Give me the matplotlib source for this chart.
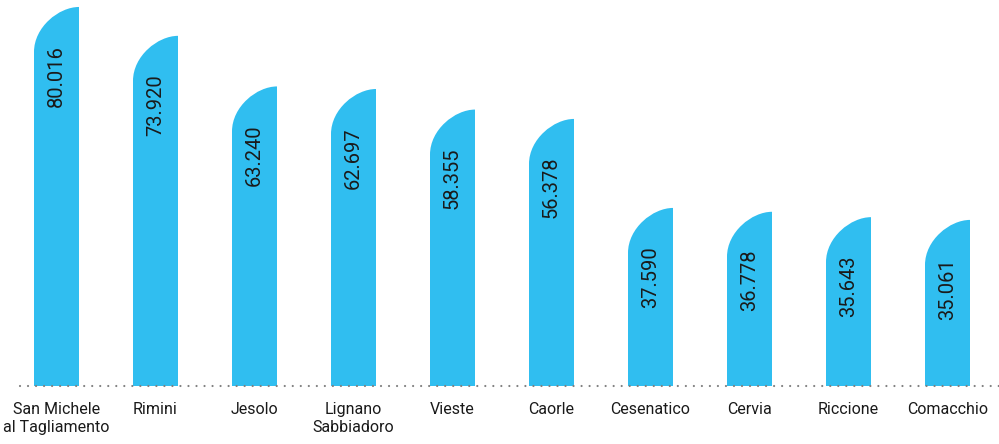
import numpy as np
import matplotlib.pyplot as plt
from matplotlib.path import Path
from matplotlib.patches import PathPatch

plt.rcParams['font.family'] = ['Roboto', 'DejaVu Sans']

cities = ['San Michele\nal Tagliamento', 'Rimini', 'Jesolo', 'Lignano\nSabbiadoro',
          'Vieste', 'Caorle', 'Cesenatico', 'Cervia', 'Riccione', 'Comacchio']
values = [80.016, 73.920, 63.240, 62.697, 58.355, 56.378, 37.590, 36.778, 35.643, 35.061]
value_labels = ['80.016', '73.920', '63.240', '62.697', '58.355',
                '56.378', '37.590', '36.778', '35.643', '35.061']

BAR_COLOR = '#30BEF0'
W, H, DPI = 999, 444, 100
base_px = 58            # baseline distance from bottom, px
px_per_unit = 4.737     # vertical scale
spacing_px = 99
first_center_px = 56.5
bar_w = 45 / spacing_px
r_y = 45 / px_per_unit  # vertical radius of the rounded corner
K = 0.5523              # bezier quarter-ellipse constant

fig = plt.figure(figsize=(W / DPI, H / DPI), dpi=DPI)
ax = fig.add_axes([0, base_px / H, 1, 1 - base_px / H])
ax.set_xlim(-first_center_px / spacing_px, (W - first_center_px) / spacing_px)
ax.set_ylim(0, (H - base_px) / px_per_unit)
ax.axis('off')


def rounded_bar(x, h):
    x0, x1 = x - bar_w / 2, x + bar_w / 2
    verts = [(x0, 0), (x0, h - r_y),
             (x0, h - r_y + K * r_y), (x1 - bar_w + K * bar_w, h), (x1, h),
             (x1, 0), (x0, 0)]
    codes = [Path.MOVETO, Path.LINETO,
             Path.CURVE4, Path.CURVE4, Path.CURVE4,
             Path.LINETO, Path.CLOSEPOLY]
    return PathPatch(Path(verts, codes), facecolor=BAR_COLOR, edgecolor='none', zorder=2)


for i, (v, lab) in enumerate(zip(values, value_labels)):
    ax.add_patch(rounded_bar(i, v))
    ax.text(i, v - 38 / px_per_unit, lab, rotation=90, ha='center', va='top',
            fontsize=14.5, color='#1a1a1a', zorder=3)
    ax.text(i, -16 / px_per_unit, cities[i], ha='center', va='top',
            fontsize=11.5, color='#1a1a1a', linespacing=1.25, clip_on=False)

# dotted baseline
x_start = (20 - first_center_px) / spacing_px
ax.plot([x_start, ax.get_xlim()[1]], [0, 0], color='#808080', lw=1.6,
        linestyle=(0, (0.01, 3.6)), dash_capstyle='round', zorder=4, clip_on=False)

fig.savefig('out.png', dpi=DPI)
